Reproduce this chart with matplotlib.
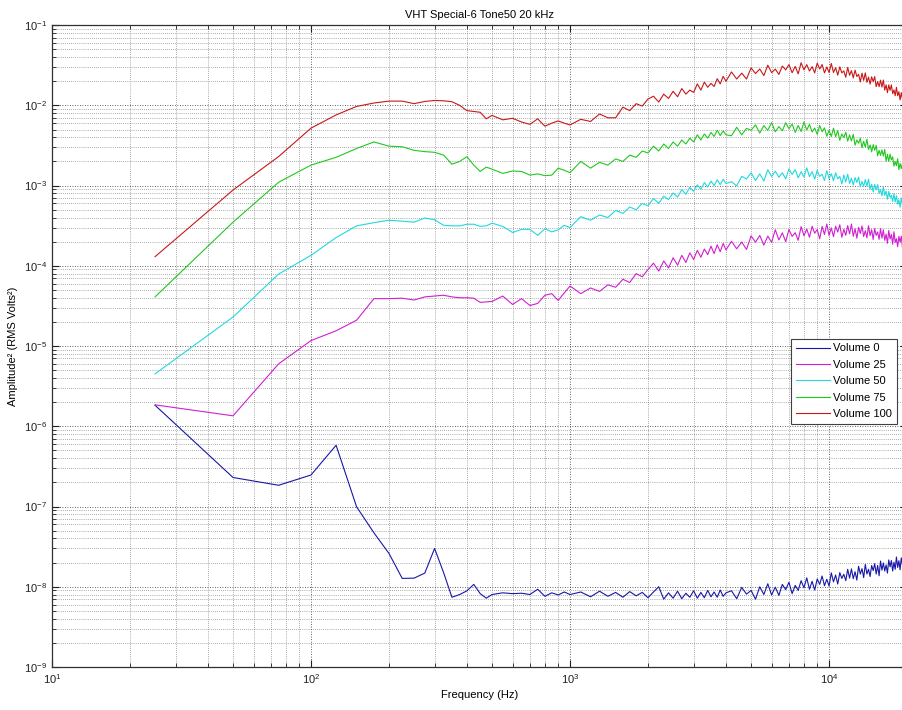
import numpy as np
import matplotlib
matplotlib.use('Agg')
import matplotlib.pyplot as plt
from matplotlib.ticker import LogLocator, NullFormatter

plt.rcParams['font.family'] = ['Liberation Sans', 'DejaVu Sans']
plt.rcParams['mathtext.fontset'] = 'custom'
plt.rcParams['mathtext.rm'] = 'Liberation Sans'
plt.rcParams['mathtext.it'] = 'Liberation Sans'

# frequency bins (Hz)
freq = np.concatenate([
    np.arange(25, 501, 25),
    np.arange(550, 1001, 50),
    np.arange(1100, 2001, 100),
    np.arange(2100, 4001, 100),
    np.arange(4200, 20001, 200),
])

# ---- Volume 0 ----
vol0_lo = [1.83e-6, 2.3e-7, 1.84e-7, 2.47e-7, 5.8e-7, 9.9e-8, 4.7e-8, 2.6e-8, 1.27e-8, 1.28e-8,
           1.48e-8, 3.0e-8, 1.5e-8, 7.4e-9, 8.0e-9, 8.9e-9, 1.07e-8, 8.2e-9, 7.2e-9, 8.0e-9,
           8.4e-9, 8.2e-9, 8.3e-9, 8.0e-9, 9.3e-9, 7.6e-9, 8.4e-9, 7.9e-9, 8.6e-9, 8.0e-9,
           8.6e-9, 7.5e-9, 8.8e-9, 7.6e-9, 8.5e-9, 7.4e-9, 8.7e-9, 7.7e-9, 8.5e-9, 7.3e-9]
vol0_mid = [8.6, 10.0, 7.0, 8.4, 7.2, 8.8, 7.1, 8.3, 7.4, 8.9,
            7.2, 8.5, 7.3, 9.0, 7.5, 8.6, 7.4, 9.1, 7.6, 8.4]  # x 1e-9
vol0_hi = [0.89, 0.71, 0.98, 0.81, 0.90, 0.70, 1.00, 0.80, 1.09, 0.79,
           0.99, 0.78, 1.07, 0.92, 1.14, 0.82, 1.04, 0.90, 1.19, 0.97,
           1.29, 0.93, 1.17, 0.91, 1.25, 1.07, 1.36, 1.03, 1.24, 1.02,
           1.49, 1.15, 1.40, 1.08, 1.50, 1.27, 1.43, 1.19, 1.65, 1.28,
           1.67, 1.26, 1.54, 1.21, 1.80, 1.44, 1.68, 1.30, 1.90, 1.44,
           1.65, 1.34, 1.84, 1.59, 1.94, 1.44, 1.84, 1.37, 2.09, 1.61,
           1.98, 1.57, 1.87, 1.48, 2.16, 1.77, 2.12, 1.57, 2.02, 1.65,
           2.35, 1.74, 2.11, 1.63, 2.29, 1.87, 2.06, 1.66, 2.44, 1.87]  # x 1e-8

# ---- Volume 25 ----
vol25_lo = [1.85e-6, 1.35e-6, 6.0e-6, 1.17e-5, 1.55e-5, 2.1e-5, 3.9e-5, 3.9e-5, 3.95e-5, 3.75e-5,
            4.1e-5, 4.2e-5, 4.3e-5, 4.1e-5, 4.0e-5, 4.0e-5, 3.95e-5, 3.5e-5, 3.55e-5, 3.6e-5,
            4.2e-5, 3.3e-5, 3.9e-5, 3.2e-5, 3.4e-5, 4.3e-5, 4.5e-5, 3.7e-5, 4.6e-5, 5.6e-5,
            4.5e-5, 5.3e-5, 4.8e-5, 5.8e-5, 5.4e-5, 6.8e-5, 6.2e-5, 8.0e-5, 7.3e-5, 9.0e-5]
vol25_mid = [10.8, 8.6, 11.5, 9.4, 12.6, 10.2, 13.5, 11.0, 14.5, 12.0,
             15.6, 12.8, 16.2, 13.8, 17.6, 14.2, 18.3, 15.0, 19.0, 15.8]  # x 1e-5
vol25_hi = [2.02, 1.63, 1.98, 1.60, 2.36, 1.97, 2.39, 1.81, 2.35, 1.96,
            2.82, 2.10, 2.58, 2.00, 2.84, 2.33, 2.59, 2.08, 3.08, 2.37,
            2.88, 2.27, 3.11, 2.55, 2.84, 2.17, 3.10, 2.46, 3.32, 2.39,
            2.97, 2.31, 3.11, 2.64, 3.25, 2.27, 2.85, 2.40, 3.17, 2.50,
            3.32, 2.33, 2.90, 2.21, 3.02, 2.53, 3.14, 2.32, 2.74, 2.23,
            3.16, 2.38, 2.82, 2.13, 2.91, 2.40, 2.64, 2.14, 2.91, 2.21,
            2.81, 2.08, 2.48, 1.91, 2.76, 2.16, 2.46, 1.86, 2.66, 1.96,
            2.18, 1.73, 2.33, 1.97, 2.34, 1.69, 2.10, 1.53, 2.27, 1.70]  # x 1e-4

# ---- Volume 50 ----
vol50_lo = [4.5e-6, 2.3e-5, 7.9e-5, 1.35e-4, 2.25e-4, 3.15e-4, 3.45e-4, 3.7e-4, 3.6e-4, 3.5e-4,
            3.95e-4, 3.75e-4, 3.2e-4, 3.15e-4, 3.15e-4, 3.3e-4, 3.3e-4, 3.1e-4, 3.15e-4, 3.4e-4,
            3.1e-4, 2.6e-4, 2.85e-4, 2.85e-4, 2.4e-4, 2.9e-4, 2.65e-4, 2.8e-4, 3.2e-4, 3.0e-4,
            4.1e-4, 3.7e-4, 4.3e-4, 4.0e-4, 4.9e-4, 4.5e-4, 5.4e-4, 5.0e-4, 6.0e-4, 5.6e-4]
vol50_mid = [6.9, 6.0, 7.4, 6.7, 8.1, 7.2, 8.9, 7.8, 9.5, 8.5,
             10.2, 9.0, 10.9, 9.6, 11.4, 10.0, 11.8, 10.3, 12.0, 10.6]  # x 1e-4
vol50_hi = [11.18, 9.94, 13.07, 12.09, 14.46, 11.57, 13.99, 11.39, 15.78, 12.97,
            15.13, 12.70, 14.46, 12.14, 16.19, 13.77, 15.76, 12.50, 14.91, 12.78,
            16.66, 12.92, 14.94, 12.08, 15.46, 13.00, 13.83, 11.56, 15.32, 12.28,
            14.10, 11.50, 14.44, 12.13, 13.00, 10.51, 13.56, 11.11, 13.85, 10.62,
            12.38, 10.17, 12.58, 10.98, 12.77, 9.62, 11.25, 9.81, 11.92, 9.87,
            12.05, 8.99, 10.40, 8.34, 10.36, 8.84, 10.28, 8.01, 8.87, 7.48,
            9.57, 7.57, 8.52, 6.77, 8.44, 7.14, 7.57, 6.34, 7.93, 6.26,
            7.46, 5.87, 6.64, 5.37, 7.02, 5.72, 6.29, 5.00, 6.48, 5.02]  # x 1e-4

# ---- Volume 75 ----
vol75_lo = [4.1e-5, 3.5e-4, 1.1e-3, 1.8e-3, 2.25e-3, 2.9e-3, 3.5e-3, 3.1e-3, 3.05e-3, 2.75e-3,
            2.65e-3, 2.6e-3, 2.4e-3, 1.85e-3, 2.0e-3, 2.3e-3, 1.8e-3, 1.5e-3, 1.7e-3, 1.6e-3,
            1.42e-3, 1.52e-3, 1.5e-3, 1.35e-3, 1.4e-3, 1.33e-3, 1.35e-3, 1.65e-3, 1.55e-3, 1.45e-3,
            2.0e-3, 1.65e-3, 1.95e-3, 1.8e-3, 2.15e-3, 2.0e-3, 2.4e-3, 2.25e-3, 2.7e-3, 2.55e-3]
vol75_mid = [3.1, 2.7, 3.3, 2.9, 3.5, 3.1, 3.7, 3.3, 3.9, 3.5,
             4.3, 3.7, 4.4, 3.9, 4.6, 4.1, 4.9, 4.2, 4.8, 4.3]  # x 1e-3
vol75_hi = [4.18, 5.34, 4.29, 5.16, 4.90, 5.71, 4.51, 5.59, 4.89, 6.10,
            4.68, 5.45, 4.82, 6.08, 5.13, 5.86, 4.61, 5.61, 4.73, 6.20,
            4.93, 5.80, 4.66, 5.21, 4.35, 5.61, 4.69, 5.24, 4.12, 4.88,
            4.09, 5.20, 4.07, 4.84, 3.66, 4.40, 3.99, 4.62, 3.58, 4.27,
            3.60, 4.36, 3.19, 3.70, 3.37, 3.90, 2.97, 3.57, 3.01, 3.78,
            2.82, 3.21, 2.63, 3.24, 2.76, 3.18, 2.35, 2.75, 2.38, 2.78,
            2.34, 2.82, 2.01, 2.45, 2.00, 2.47, 2.09, 2.28, 1.75, 1.99,
            1.77, 2.16, 1.58, 1.89, 1.63, 1.89, 1.36, 1.58, 1.31, 1.35]  # x 1e-3

# ---- Volume 100 ----
vol100_lo = [1.3e-4, 8.8e-4, 2.3e-3, 5.2e-3, 7.6e-3, 9.7e-3, 1.07e-2, 1.13e-2, 1.13e-2, 1.05e-2,
             1.12e-2, 1.15e-2, 1.14e-2, 1.11e-2, 1.0e-2, 8.6e-3, 8.4e-3, 8.2e-3, 6.8e-3, 7.5e-3,
             6.6e-3, 6.9e-3, 6.2e-3, 5.8e-3, 6.8e-3, 5.5e-3, 6.0e-3, 6.4e-3, 6.0e-3, 5.7e-3,
             6.7e-3, 6.3e-3, 7.8e-3, 7.0e-3, 7.0e-3, 9.5e-3, 8.6e-3, 1.05e-2, 9.8e-3, 1.2e-2]
vol100_mid = [1.30, 1.10, 1.38, 1.22, 1.50, 1.28, 1.62, 1.38, 1.55, 1.45,
              1.85, 1.55, 1.95, 1.68, 1.88, 1.72, 2.15, 1.85, 2.30, 2.00]  # x 1e-2
vol100_hi = [2.61, 2.13, 2.52, 2.13, 2.93, 2.49, 2.84, 2.35, 3.17, 2.56,
             2.83, 2.43, 3.09, 2.77, 3.22, 2.55, 3.06, 2.47, 3.40, 2.77,
             3.22, 2.68, 3.04, 2.54, 3.36, 2.84, 3.23, 2.54, 3.01, 2.57,
             3.33, 2.57, 2.95, 2.38, 3.02, 2.54, 2.69, 2.24, 2.97, 2.37,
             2.71, 2.20, 2.75, 2.29, 2.44, 1.96, 2.52, 2.05, 2.54, 1.94,
             2.25, 1.84, 2.27, 1.97, 2.28, 1.71, 1.98, 1.71, 2.06, 1.69,
             2.07, 1.55, 1.80, 1.44, 1.80, 1.54, 1.80, 1.40, 1.56, 1.32,
             1.68, 1.32, 1.48, 1.17, 1.44, 1.21, 1.27, 1.05, 1.30, 1.01]  # x 1e-2

vol0 = np.concatenate([vol0_lo, np.array(vol0_mid) * 1e-9, np.array(vol0_hi) * 1e-8])
vol25 = np.concatenate([vol25_lo, np.array(vol25_mid) * 1e-5, np.array(vol25_hi) * 1e-4])
vol50 = np.concatenate([vol50_lo, np.array(vol50_mid) * 1e-4, np.array(vol50_hi) * 1e-4])
vol75 = np.concatenate([vol75_lo, np.array(vol75_mid) * 1e-3, np.array(vol75_hi) * 1e-3])
vol100 = np.concatenate([vol100_lo, np.array(vol100_mid) * 1e-2, np.array(vol100_hi) * 1e-2])

labels = ['Volume 0', 'Volume 25', 'Volume 50', 'Volume 75', 'Volume 100']
series = [vol0, vol25, vol50, vol75, vol100]
colors = ['#1818a8', '#d020d0', '#20d8e0', '#20c820', '#c81818']

fig = plt.figure(figsize=(9.02, 7.10), dpi=100)
ax = fig.add_axes([0.0576, 0.0606, 0.948, 0.904])

for y, lab, c in zip(series, labels, colors):
    ax.loglog(freq, y, color=c, lw=0.8, label=lab)

ax.set_xlim(10, 20000)
ax.set_ylim(1e-9, 1e-1)

ax.xaxis.set_major_locator(LogLocator(base=10, numticks=10))
ax.yaxis.set_major_locator(LogLocator(base=10, numticks=12))
ax.xaxis.set_minor_locator(LogLocator(base=10, subs=np.arange(2, 10), numticks=20))
ax.yaxis.set_minor_locator(LogLocator(base=10, subs=np.arange(2, 10), numticks=20))
ax.xaxis.set_minor_formatter(NullFormatter())
ax.yaxis.set_minor_formatter(NullFormatter())

ax.grid(True, which='major', ls=(0, (1, 2)), color='#303030', lw=0.6)
ax.grid(True, which='minor', ls=(0, (1, 2)), color='#606060', lw=0.5)
ax.tick_params(which='both', direction='in', top=True, right=True, labelsize=8, colors='#202020')
ax.tick_params(which='major', length=5)
ax.tick_params(which='minor', length=3, labelbottom=False, labelleft=False)
for s in ax.spines.values():
    s.set_color('#303030')
    s.set_linewidth(0.9)

ax.set_title('VHT Special-6 Tone50 20 kHz', fontsize=8, pad=5)
ax.set_xlabel('Frequency (Hz)', fontsize=8, labelpad=3)
ax.set_ylabel('Amplitude² (RMS Volts²)', fontsize=8, labelpad=4)

leg = ax.legend(loc='upper right', bbox_to_anchor=(0.988, 0.511), fontsize=8,
                fancybox=False, framealpha=1, edgecolor='#404040',
                handlelength=3.1, handletextpad=0.3, borderpad=0.4, labelspacing=0.58,
                borderaxespad=0)
leg.get_frame().set_linewidth(0.8)

fig.savefig('out.png', dpi=100)
